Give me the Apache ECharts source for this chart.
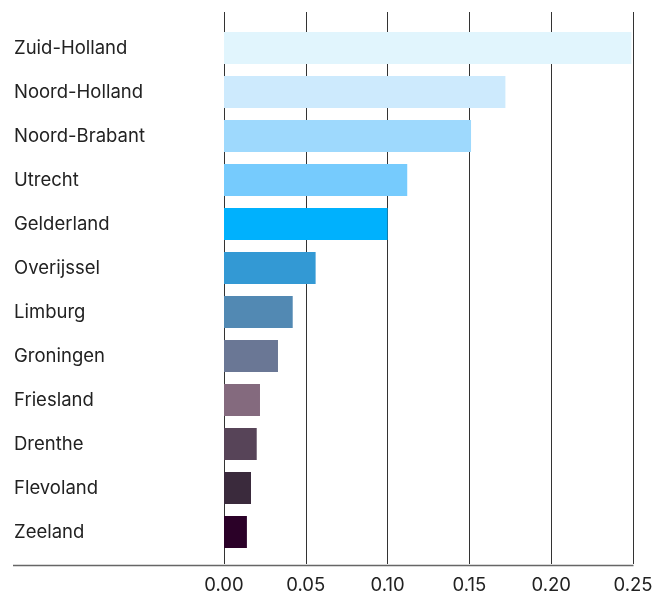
<!DOCTYPE html>
<html>
<head>
<meta charset="utf-8">
<script src="https://cdn.jsdelivr.net/npm/echarts@6/dist/echarts.min.js"></script>
<style>
  html, body { margin: 0; padding: 0; background: #fff; }
  #chart { width: 666px; height: 595px; }
</style>
</head>
<body>
<div id="chart"></div>
<script>
// provinces, top to bottom
var provinces = ['Zuid-Holland', 'Noord-Holland', 'Noord-Brabant', 'Utrecht', 'Gelderland', 'Overijssel',
    'Limburg', 'Groningen', 'Friesland', 'Drenthe', 'Flevoland', 'Zeeland'];
var values = [0.249, 0.172, 0.151, 0.112, 0.100, 0.056, 0.042, 0.033, 0.022, 0.020, 0.0165, 0.014];
var barColors = ['#e1f5fd', '#cdeafd', '#9ed9fd', '#76cbfd', '#00b1fd', '#3399d4',
    '#5289b3', '#6a7795', '#846a7e', '#574458', '#3a2a3c', '#2b0128'];
var tickValues = [0, 0.05, 0.10, 0.15, 0.20, 0.25];

var chart = echarts.init(document.getElementById('chart'));

var seriesData = values.map(function (v, i) {
    return { value: v, itemStyle: { color: barColors[i] } };
});

var option = {
    backgroundColor: '#fff',
    animation: false,
    textStyle: { fontFamily: 'Inter, "Noto Sans", sans-serif' },
    grid: [
        // grid 0: vertical lines + tick labels
        { left: 224, right: 33, top: 12, bottom: 29 },
        // grid 1: bars
        { left: 224, right: 33, top: 26, bottom: 41 }
    ],
    xAxis: [
        {
            gridIndex: 0,
            type: 'value',
            min: tickValues[0],
            max: tickValues[tickValues.length - 1],
            interval: 0.05,
            axisLine: { show: false },
            axisTick: { show: false },
            splitLine: { show: true, lineStyle: { color: '#333', width: 1 } },
            axisLabel: {
                margin: 12,
                fontSize: 18.5,
                color: '#222',
                formatter: function (v) { return v.toFixed(2); }
            }
        },
        {
            gridIndex: 1,
            type: 'value',
            min: tickValues[0],
            max: tickValues[tickValues.length - 1],
            show: false
        }
    ],
    yAxis: [
        {
            gridIndex: 0,
            type: 'value',
            show: false
        },
        {
            gridIndex: 1,
            type: 'category',
            data: provinces,
            inverse: true,
            axisLine: { show: false },
            axisTick: { show: false },
            splitLine: { show: false },
            axisLabel: {
                align: 'left',
                margin: 210,
                fontSize: 18.5,
                color: '#222',
                padding: [3, 0, 0, 0]
            }
        }
    ],
    graphic: [
        {
            type: 'line',
            shape: { x1: 13, y1: 565.5, x2: 633.5, y2: 565.5 },
            style: { stroke: '#666', lineWidth: 1.5 },
            z: 10
        }
    ],
    series: [
        {
            type: 'bar',
            xAxisIndex: 1,
            yAxisIndex: 1,
            barWidth: 32,
            data: seriesData
        }
    ]
};

chart.setOption(option);
</script>
</body>
</html>
